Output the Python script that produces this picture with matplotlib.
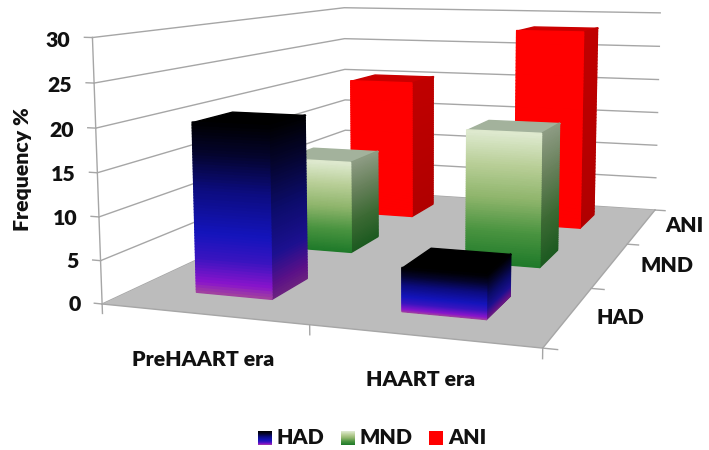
import numpy as np
import matplotlib
matplotlib.use("Agg")
import matplotlib.pyplot as plt
from matplotlib.colors import LinearSegmentedColormap as LSC, to_rgba
from mpl_toolkits.mplot3d import proj3d

categories = ["PreHAART era", "HAART era"]
series = ["HAD", "MND", "ANI"]
had = [20, 5]
mnd = [12, 17]
ani = [20, 28]
zticks = [0, 5, 10, 15, 20, 25, 30]

W, H = 709, 450
plt.rcParams['font.family'] = ['Lato', 'DejaVu Sans']
plt.rcParams['font.weight'] = 'heavy'
GRID = '#a6a6a6'
FLOOR = '#bcbcbc'
TXT = '#111111'
FS = 15.3

# colours go from bottom of the bar to the top
front = {
    'HAD': LSC.from_list('hf', [(0, '#a040a0'), (.06, '#8a14cc'), (.2, '#3a14c0'), (.35, '#1414bc'),
                                (.6, '#0c0c80'), (.82, '#04042c'), (1, '#000000')]),
    'MND': LSC.from_list('mf', ['#1f7a2a', '#4a9440', '#8fb56c', '#b9cf98', '#e0ebd2']),
    'ANI': LSC.from_list('af', ['#ff0000', '#ff0000']),
}
side = {
    'HAD': LSC.from_list('hs', [(0, '#6a2080'), (.08, '#5a1088'), (.25, '#1c1090'), (.5, '#0c0c6c'),
                                (.8, '#040428'), (1, '#000000')]),
    'MND': LSC.from_list('ms', ['#1c5a20', '#3c6a34', '#66805a', '#8e9c84']),
    'ANI': LSC.from_list('as', ['#b00000', '#c00000']),
}
top = {'HAD': '#000000', 'MND': '#a3b29c', 'ANI': '#cc0000'}

fig = plt.figure(figsize=(W / 100, H / 100), dpi=100)
ax = fig.add_axes([0.0879, -0.1022, 0.9831, 1.5490], projection='3d', computed_zorder=False)
ax.patch.set_alpha(0)
ax.set_xlim(0, 2)
ax.set_ylim(0, 3)
ax.set_zlim(0, 30)
ax.view_init(8.36, -71.24)
ax.set_proj_type('persp', focal_length=0.3478)
ax.set_box_aspect((1.694, 2.441, 1))
ax.set_axis_off()
ax.apply_aspect()


def face(x, y, z, colors, zo):
    s = ax.plot_surface(x, y, z, facecolors=colors, shade=False, rstride=1, cstride=1,
                        linewidth=1, antialiased=True, zorder=zo)
    s.set_snap(False)


def bar(u, v, val, name, zo, du=0.19, dv=0.205):
    n = 60
    t = np.linspace(0, 1, n)
    zz = np.column_stack([t * val, t * val])
    cf = front[name](t)[:, None, :].repeat(2, axis=1)
    cs = side[name](t)[:, None, :].repeat(2, axis=1)
    uu = np.array([[u - du, u + du]]).repeat(n, axis=0)
    vv = np.array([[v - dv, v + dv]]).repeat(n, axis=0)
    # top first so the front and side edges sit over it
    xg, yg = np.meshgrid([u - du, u + du], [v - dv, v + dv])
    c = np.array(to_rgba(top[name]))[None, None, :].repeat(2, 0).repeat(2, 1)
    face(xg, yg, 0 * xg + val, c, zo)
    face(0 * vv + u + du, vv, zz, cs, zo)
    face(uu, 0 * uu + v - dv, zz, cf, zo)


# walls
for z in zticks:
    ax.plot([0, 0, 2], [0, 3, 3], [z, z, z], color=GRID, lw=1, zorder=1)
    ax.plot([-0.04, 0], [0, 0], [z, z], color=GRID, lw=1, zorder=1)
ax.plot([0, 0], [0, 0], [-1.1, 30], color=GRID, lw=1, zorder=1)

# floor
xg, yg = np.meshgrid([0, 2], [0, 3])
ax.plot_surface(xg, yg, 0 * xg, color=FLOOR, shade=False, linewidth=0, zorder=2)
ax.plot([0, 2, 2], [0, 0, 3], [0, 0, 0], color=GRID, lw=1, zorder=3)
for u in [1, 2]:
    ax.plot([u, u], [0, 0], [-1.1, 0], color=GRID, lw=1, zorder=3)
for v in [0, 1, 2, 3]:
    ax.plot([2, 2.06], [v, v], [0, 0], color=GRID, lw=1, zorder=3)

# bars, back row first
for i, (name, vals) in enumerate(zip(series, [had, mnd, ani])):
    for j, val in enumerate(vals):
        bar(j + 0.49, i + 0.53, val, name, 10 - i)

# z tick labels as plain 2D text at the projected spot
M = ax.get_proj()
for z in zticks:
    xp, yp, _ = proj3d.proj_transform(-0.11, 0, z - 0.35, M)
    ax.text2D(xp, yp, str(z), ha='right', va='center', fontsize=FS, color=TXT, transform=ax.transData)


def px_text(x, y, s, **kw):
    fig.text(x / W, 1 - y / H, s, ha='center', va='center', fontsize=FS, color=TXT, **kw)


px_text(23, 169, "Frequency %", rotation=90)
px_text(203, 360, categories[0])
px_text(421, 380, categories[1])
px_text(620, 317, series[0])
px_text(667, 265, series[1])
px_text(684, 226, series[2])

# legend
for name, x0, xt in zip(series, [258, 341, 429], [300, 386, 467]):
    sw = fig.add_axes([x0 / W, 1 - 445 / H, 14 / W, 14 / H])
    sw.imshow(np.linspace(1, 0, 30)[:, None], cmap=front[name], aspect='auto', vmin=0, vmax=1)
    sw.axis('off')
    px_text(xt, 438, name)

fig.savefig('out.png', dpi=100)
